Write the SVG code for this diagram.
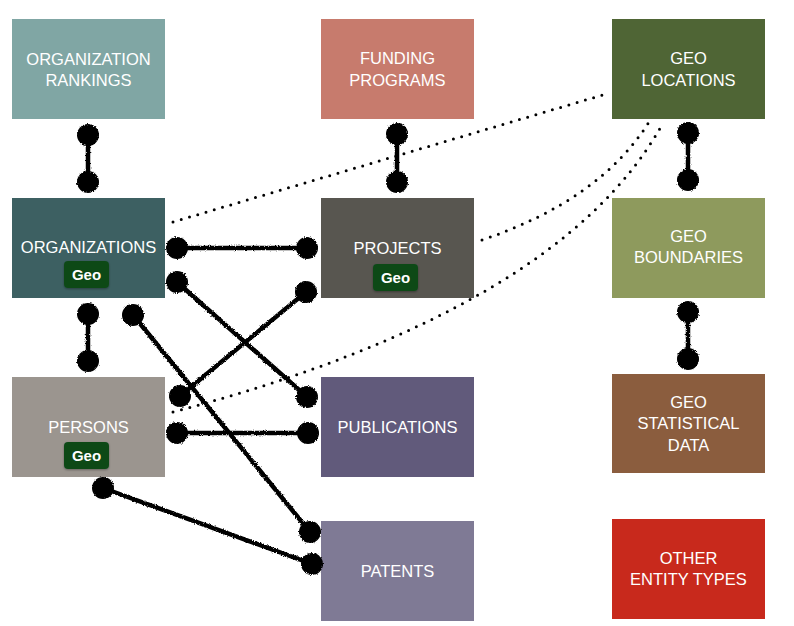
<svg xmlns="http://www.w3.org/2000/svg" width="794" height="626" viewBox="0 0 794 626">
<defs>
<style>
.box{stroke:none}
.lbl{font-family:"Liberation Sans",Arial,sans-serif;font-size:16.5px;fill:#ffffff;text-anchor:middle}
.badge{fill:#0f4a18}
.btxt{font-family:"Liberation Sans",Arial,sans-serif;font-size:15px;font-weight:bold;fill:#ffffff;text-anchor:middle}
.link{stroke:#000;stroke-width:4.5;fill:none;stroke-linecap:round}
.dot{fill:#000}
.dots{stroke:#000;stroke-width:3;fill:none;stroke-linecap:round;stroke-dasharray:0 8.6}
</style>
<filter id="rough" x="-10%" y="-10%" width="120%" height="120%">
<feTurbulence type="fractalNoise" baseFrequency="0.9" numOctaves="2" seed="3" result="n"/>
<feDisplacementMap in="SourceGraphic" in2="n" scale="3" xChannelSelector="R" yChannelSelector="G"/>
</filter>
<filter id="shadow" x="-20%" y="-20%" width="140%" height="150%">
<feDropShadow dx="0" dy="1" stdDeviation="1" flood-color="#000" flood-opacity="0.35"/>
</filter>
</defs>
<rect width="794" height="626" fill="#ffffff"/>

<g id="org-rankings"><rect class="box" x="12" y="19" width="153" height="100" fill="#80a6a4"/><text class="lbl" x="88.5" y="65">ORGANIZATION</text><text class="lbl" x="88.5" y="86">RANKINGS</text></g>
<g id="organizations"><rect class="box" x="12" y="198" width="153" height="100" fill="#3d6062"/><text class="lbl" x="88.5" y="253">ORGANIZATIONS</text><rect class="badge" x="64" y="261" width="45" height="27" rx="4" filter="url(#shadow)"/><text class="btxt" x="86.5" y="280">Geo</text></g>
<g id="persons"><rect class="box" x="12" y="377" width="153" height="100" fill="#9b958f"/><text class="lbl" x="88.5" y="433">PERSONS</text><rect class="badge" x="64" y="442" width="45" height="27" rx="4" filter="url(#shadow)"/><text class="btxt" x="86.5" y="461">Geo</text></g>

<g id="funding-programs"><rect class="box" x="321" y="19" width="153" height="100" fill="#c77b6d"/><text class="lbl" x="397.5" y="64">FUNDING</text><text class="lbl" x="397.5" y="86">PROGRAMS</text></g>
<g id="projects"><rect class="box" x="321" y="198" width="153" height="100" fill="#585650"/><text class="lbl" x="397.5" y="254">PROJECTS</text><rect class="badge" x="373" y="264" width="45" height="27" rx="4" filter="url(#shadow)"/><text class="btxt" x="395.5" y="283">Geo</text></g>
<g id="publications"><rect class="box" x="321" y="377" width="153" height="100" fill="#615a7b"/><text class="lbl" x="397.5" y="433">PUBLICATIONS</text></g>
<g id="patents"><rect class="box" x="321" y="521" width="153" height="100" fill="#7f7a95"/><text class="lbl" x="397.5" y="577">PATENTS</text></g>

<g id="geo-locations"><rect class="box" x="612" y="19" width="153" height="100" fill="#4f6535"/><text class="lbl" x="688.5" y="64">GEO</text><text class="lbl" x="688.5" y="86">LOCATIONS</text></g>
<g id="geo-boundaries"><rect class="box" x="612" y="198" width="153" height="100" fill="#8e9a5d"/><text class="lbl" x="688.5" y="242">GEO</text><text class="lbl" x="688.5" y="263">BOUNDARIES</text></g>
<g id="geo-statistical-data"><rect class="box" x="612" y="374" width="153" height="99" fill="#8b5d3e"/><text class="lbl" x="688.5" y="408">GEO</text><text class="lbl" x="688.5" y="429">STATISTICAL</text><text class="lbl" x="688.5" y="451">DATA</text></g>
<g id="other-entity-types"><rect class="box" x="612" y="519" width="153" height="100" fill="#c8291c"/><text class="lbl" x="688.5" y="564">OTHER</text><text class="lbl" x="688.5" y="585">ENTITY TYPES</text></g>

<g id="connectors">
<g id="dotted">
<path class="dots" d="M173 222 L606 94"/>
<path class="dots" d="M482 240 Q600 200 649 122"/>
<path class="dots" d="M173 412 Q560 310 663 123"/>
</g>
<g id="links" filter="url(#rough)">
<line class="link" x1="88" y1="135" x2="88" y2="182"/><circle class="dot" cx="88" cy="135" r="11"/><circle class="dot" cx="88" cy="182" r="11"/>
<line class="link" x1="397" y1="134" x2="397" y2="182"/><circle class="dot" cx="397" cy="134" r="11"/><circle class="dot" cx="397" cy="182" r="11"/>
<line class="link" x1="688" y1="133" x2="688" y2="180"/><circle class="dot" cx="688" cy="133" r="11"/><circle class="dot" cx="688" cy="180" r="11"/>
<line class="link" x1="688" y1="312" x2="688" y2="359"/><circle class="dot" cx="688" cy="312" r="11"/><circle class="dot" cx="688" cy="359" r="11"/>
<line class="link" x1="88" y1="314" x2="88" y2="361"/><circle class="dot" cx="88" cy="314" r="11"/><circle class="dot" cx="88" cy="361" r="11"/>
<line class="link" x1="177" y1="248" x2="307" y2="248"/><circle class="dot" cx="177" cy="248" r="11"/><circle class="dot" cx="307" cy="248" r="11"/>
<line class="link" x1="177" y1="282" x2="307" y2="397"/><circle class="dot" cx="177" cy="282" r="11"/><circle class="dot" cx="307" cy="397" r="11"/>
<line class="link" x1="180" y1="396" x2="306" y2="292"/><circle class="dot" cx="180" cy="396" r="11"/><circle class="dot" cx="306" cy="292" r="11"/>
<line class="link" x1="177" y1="433" x2="308" y2="433"/><circle class="dot" cx="177" cy="433" r="11"/><circle class="dot" cx="308" cy="433" r="11"/>
<line class="link" x1="133" y1="315" x2="310" y2="532"/><circle class="dot" cx="133" cy="315" r="11"/><circle class="dot" cx="310" cy="532" r="11"/>
<line class="link" x1="103" y1="488" x2="312" y2="564"/><circle class="dot" cx="103" cy="488" r="11"/><circle class="dot" cx="312" cy="564" r="11"/>
</g>
</g>
</svg>
